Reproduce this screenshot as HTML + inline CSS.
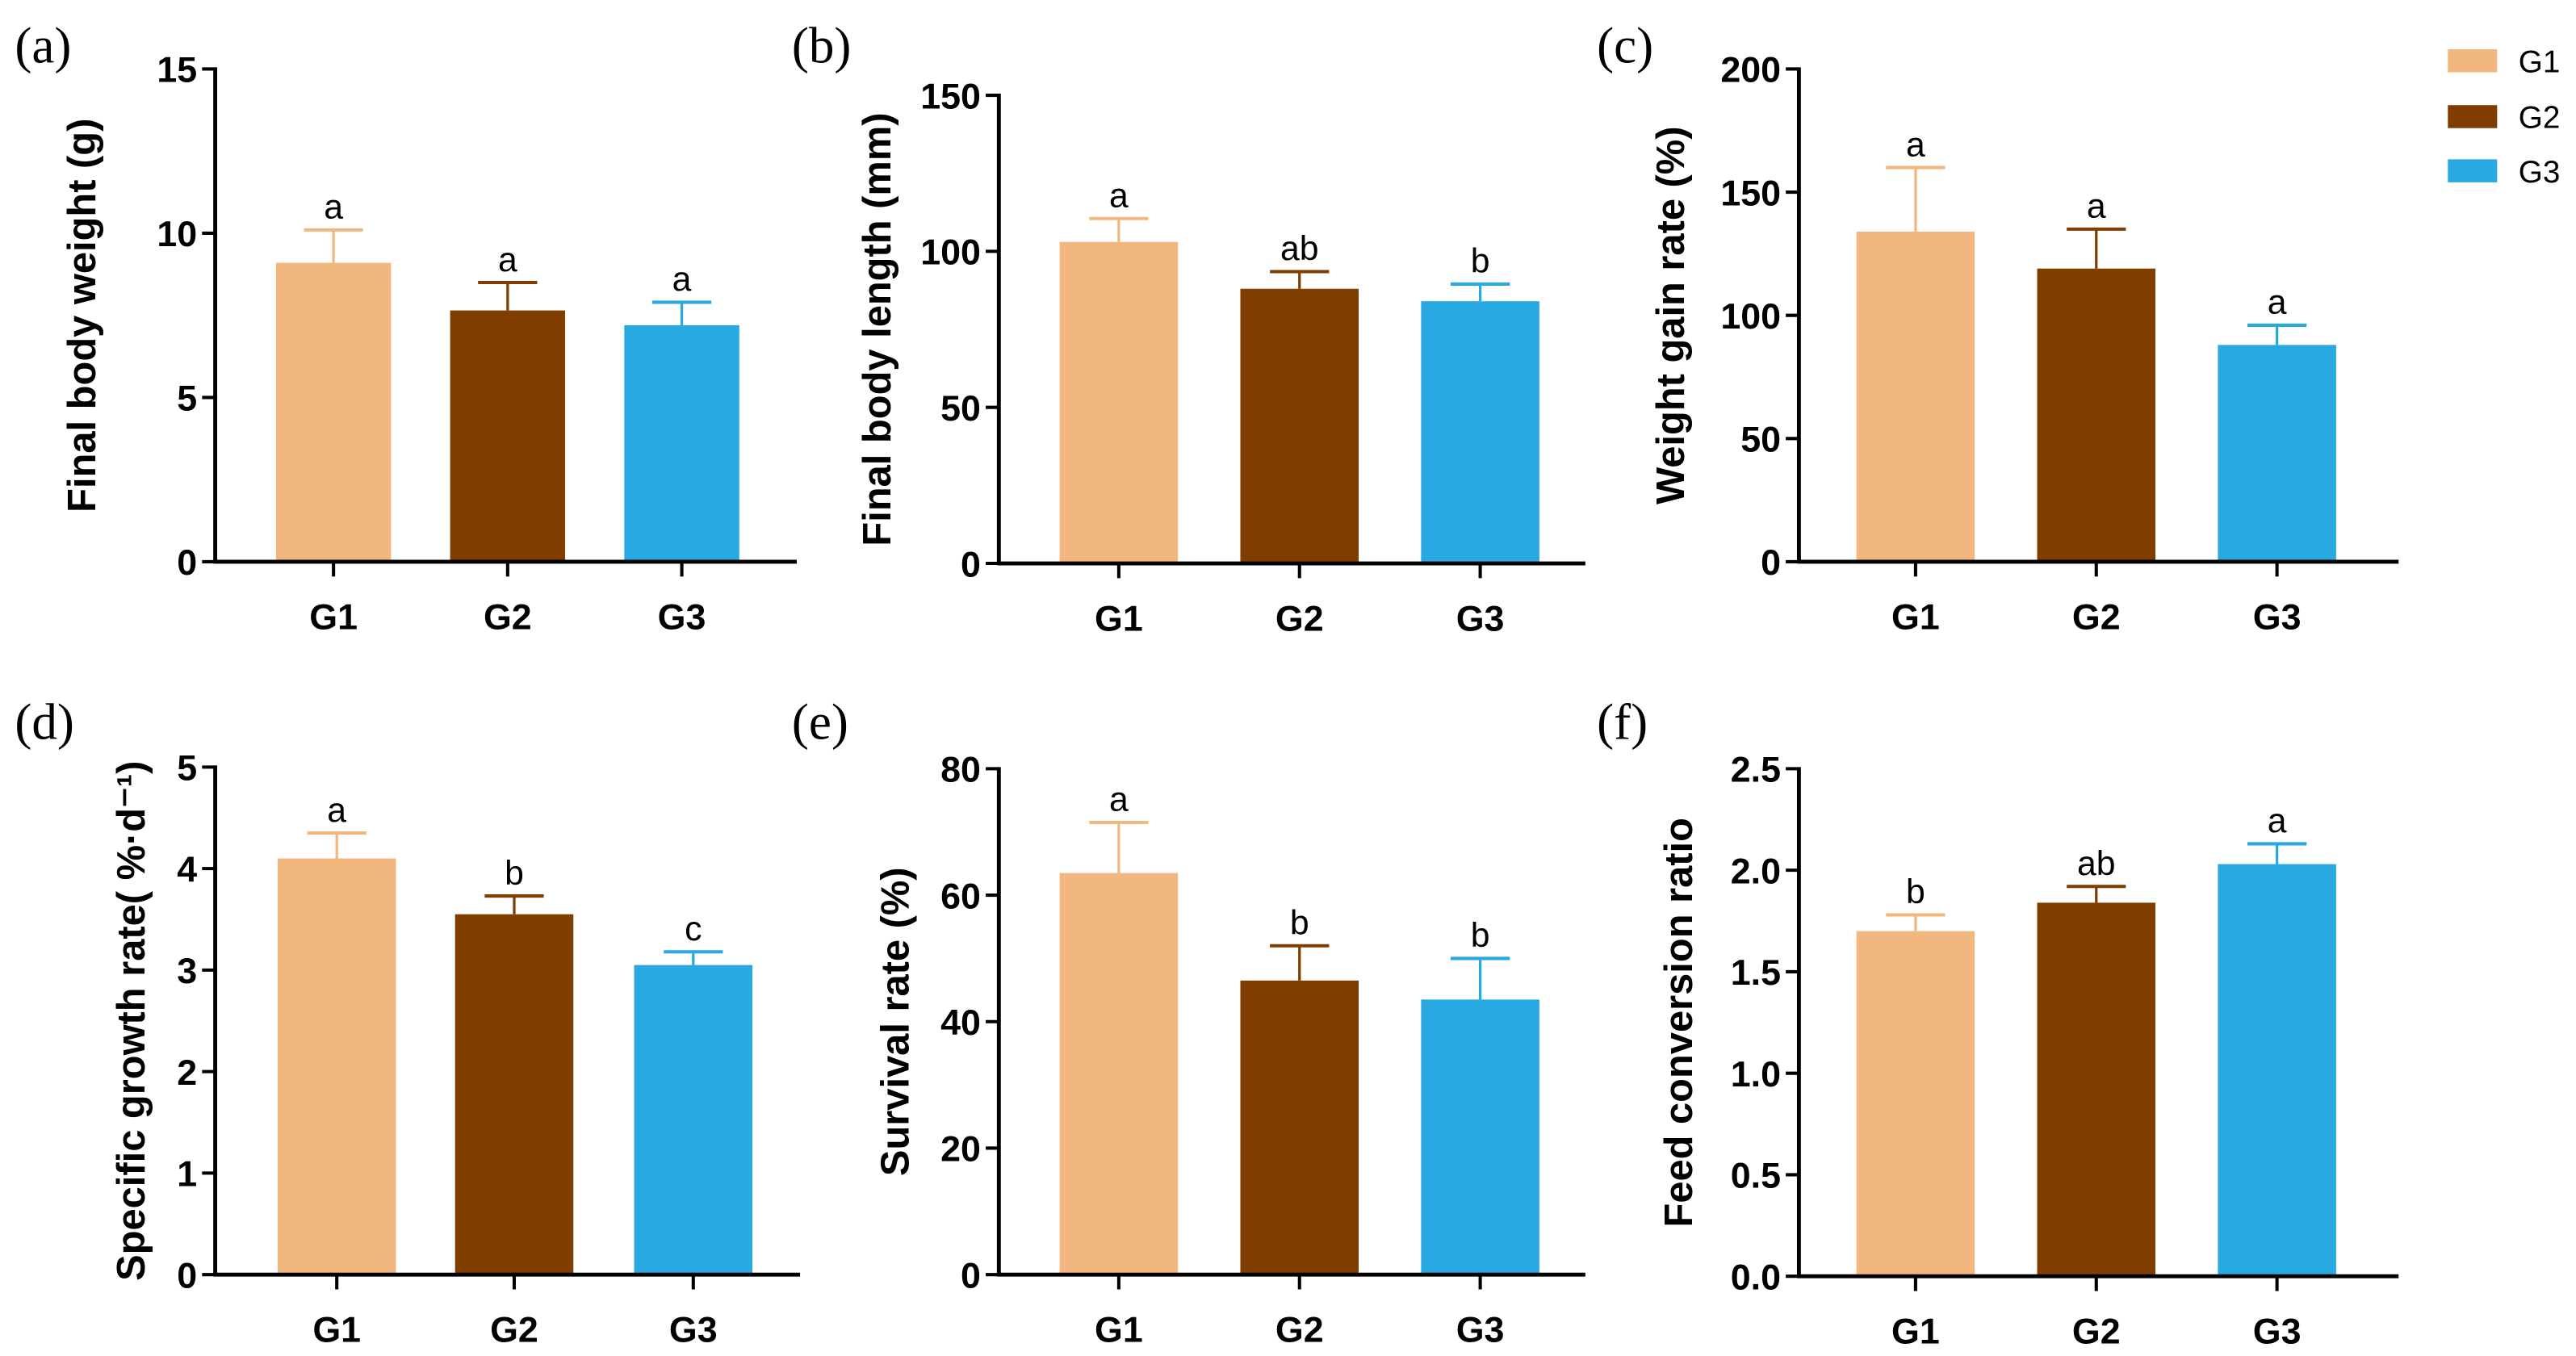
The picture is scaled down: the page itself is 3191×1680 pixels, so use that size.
<!DOCTYPE html>
<html><head><meta charset="utf-8"><style>
html,body{margin:0;padding:0;background:#fff;}
svg{display:block;}
text{font-family:"Liberation Sans",Arial,sans-serif;}
.serif{font-family:"Liberation Serif","Times New Roman",serif;}
</style></head><body>
<svg id="fig" width="3191" height="1680" viewBox="0 0 1568 825.55" preserveAspectRatio="none" xmlns="http://www.w3.org/2000/svg">
<g>
<rect x="1490" y="30" width="30" height="14" fill="#F2B77E"/>
<text x="1533" y="44" font-size="19">G1</text>
<rect x="1490" y="64" width="30" height="14" fill="#7F3D00"/>
<text x="1533" y="78" font-size="19">G2</text>
<rect x="1490" y="97" width="30" height="14" fill="#29A9E1"/>
<text x="1533" y="111" font-size="19">G3</text>
</g>
</svg>
<script>
const categories = ["G1","G2","G3"];
const colors = ["#F2B77E","#7F3D00","#29A9E1"];
const weightMeans = [9.1, 7.65, 7.2];
const weightErr = [10.1, 8.5, 7.9];
const weightLetters = ["a","a","a"];
const lengthMeans = [103, 88, 84];
const lengthErr = [110.5, 93.5, 89.5];
const lengthLetters = ["a","ab","b"];
const gainMeans = [134, 119, 88];
const gainErr = [160, 135, 96];
const gainLetters = ["a","a","a"];
const sgrMeans = [4.1, 3.55, 3.05];
const sgrErr = [4.35, 3.73, 3.18];
const sgrLetters = ["a","b","c"];
const survMeans = [63.5, 46.5, 43.5];
const survErr = [71.5, 52, 50];
const survLetters = ["a","b","b"];
const fcrMeans = [1.70, 1.84, 2.03];
const fcrErr = [1.78, 1.92, 2.13];
const fcrLetters = ["b","ab","a"];
const ticksA = ["0","5","10","15"];
const ticksB = ["0","50","100","150"];
const ticksC = ["0","50","100","150","200"];
const ticksD = ["0","1","2","3","4","5"];
const ticksE = ["0","20","40","60","80"];
const ticksF = ["0.0","0.5","1.0","1.5","2.0","2.5"];

const NS="http://www.w3.org/2000/svg";
const svg=document.getElementById('fig');
function mk(tag,attrs,parent){const e=document.createElementNS(NS,tag);for(const k in attrs)e.setAttribute(k,attrs[k]);(parent||svg).appendChild(e);return e;}

const panels=[
 {id:'a',label:'(a)',lx:9,ly:38,title:'Final body weight (g)',tx:58,ax:131,top:42,y0:342,xe:485,cx:[203,309,415],bw:70,ticks:ticksA,means:weightMeans,err:weightErr,letters:weightLetters},
 {id:'b',label:'(b)',lx:482,ly:38,title:'Final body length  (mm)',tx:542,ax:608,top:58,y0:343,xe:965,cx:[681,791,901],bw:72,ticks:ticksB,means:lengthMeans,err:lengthErr,letters:lengthLetters},
 {id:'c',label:'(c)',lx:972,ly:38,title:'Weight gain rate (%)',tx:1025,ax:1095,top:42,y0:342,xe:1460,cx:[1166,1276,1386],bw:72,ticks:ticksC,means:gainMeans,err:gainErr,letters:gainLetters},
 {id:'d',label:'(d)',lx:9,ly:450,title:'Specific growth rate( %·d⁻¹)',tx:88,ax:131,top:467,y0:776,xe:487,cx:[205,313,422],bw:72,ticks:ticksD,means:sgrMeans,err:sgrErr,letters:sgrLetters},
 {id:'e',label:'(e)',lx:482,ly:450,title:'Survival rate (%)',tx:553,ax:608,top:468,y0:776,xe:965,cx:[681,791,901],bw:72,ticks:ticksE,means:survMeans,err:survErr,letters:survLetters},
 {id:'f',label:'(f)',lx:972,ly:450,title:'Feed conversion ratio',tx:1030,ax:1095,top:468,y0:777,xe:1460,cx:[1166,1276,1386],bw:72,ticks:ticksF,means:fcrMeans,err:fcrErr,letters:fcrLetters}
];

panels.forEach(p=>{
 const g=mk('g',{});
 
 
 const max=parseFloat(p.ticks[p.ticks.length-1]);
 const y=v=>p.y0-(v/max)*(p.y0-p.top);
 const pl=mk('text',{x:p.lx,y:p.ly,'font-size':31,class:'serif'},g);pl.textContent=p.label;
 
 
 const yc=(p.top+p.y0)/2;
 const t=mk('text',{x:p.tx,y:yc,'font-size':24,'font-weight':'bold','text-anchor':'middle',transform:`rotate(-90 ${p.tx} ${yc})`},g);t.textContent=p.title;
 
 
 p.means.forEach((m,i)=>{
  const cx=p.cx[i],col=colors[i];
  const b=mk('rect',{x:cx-p.bw/2,y:y(m),width:p.bw,height:p.y0-y(m),fill:col},g);
  
  
  const el=mk('line',{x1:cx,x2:cx,y1:y(m),y2:y(p.err[i]),stroke:col,'stroke-width':1.6},g);
  
  
  const cap=mk('line',{x1:cx-18,x2:cx+18,y1:y(p.err[i]),y2:y(p.err[i]),stroke:col,'stroke-width':2},g);
  
  
  const lt=mk('text',{x:cx,y:y(p.err[i])-7,'font-size':21,'text-anchor':'middle'},g);lt.textContent=p.letters[i];
  
  
  const tk=mk('line',{x1:cx,x2:cx,y1:p.y0,y2:p.y0+9,stroke:'#000','stroke-width':2},g);
  
  
  const xl=mk('text',{x:cx,y:p.y0+41,'font-size':22,'font-weight':'bold','text-anchor':'middle'},g);xl.textContent=categories[i];
  
  
 });
 p.ticks.forEach(tv=>{
  const yy=y(parseFloat(tv));
  const tk=mk('line',{x1:p.ax-8,x2:p.ax,y1:yy,y2:yy,stroke:'#000','stroke-width':2},g);
  
  
  const tl=mk('text',{x:p.ax-11,y:yy+8,'font-size':22,'font-weight':'bold','text-anchor':'end'},g);tl.textContent=tv;
  
  
 });
 const ya=mk('line',{x1:p.ax,x2:p.ax,y1:p.top-1,y2:p.y0+1,stroke:'#000','stroke-width':2.4},g);
 
 
 const xa=mk('line',{x1:p.ax-1,x2:p.xe,y1:p.y0,y2:p.y0,stroke:'#000','stroke-width':2.4},g);
 
 
});
</script>
</body></html>
